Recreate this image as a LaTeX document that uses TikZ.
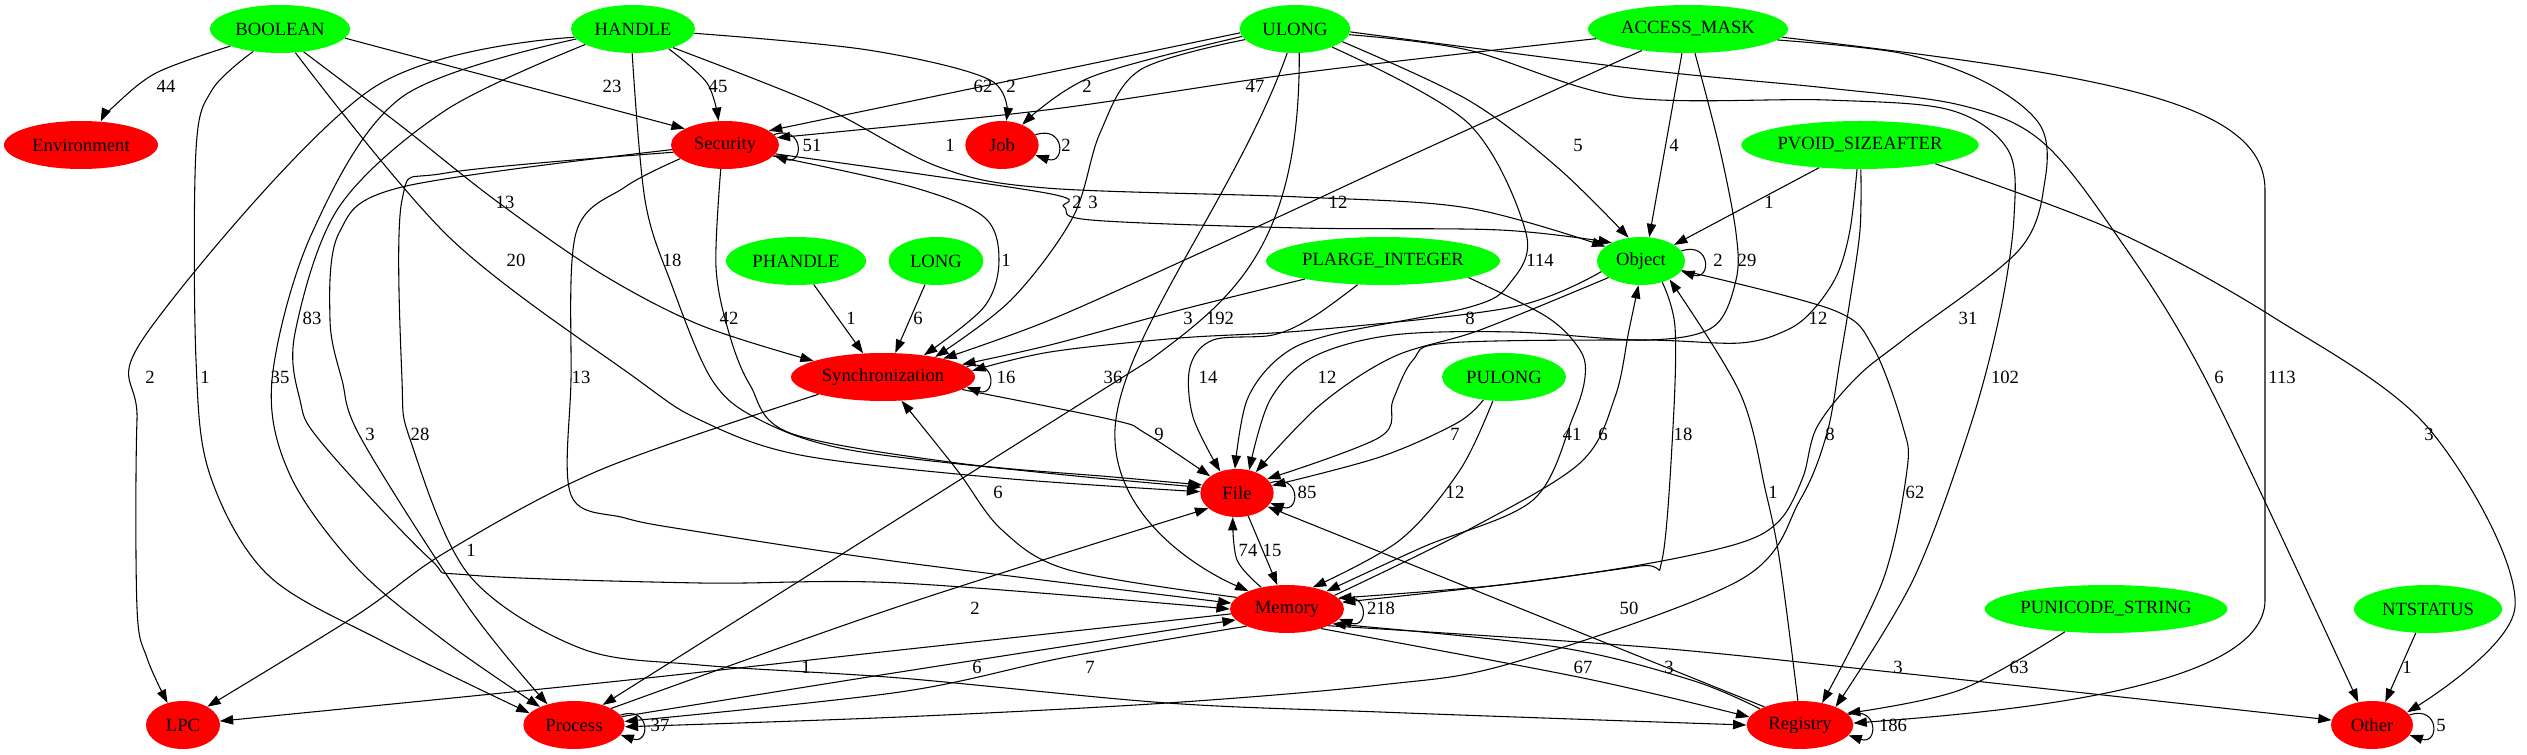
\documentclass[tikz,border=0pt]{standalone}
\usepackage{fontspec}
\setmainfont{Liberation Serif}
\usetikzlibrary{shapes.geometric,arrows.meta}
\definecolor{gvg}{RGB}{0,255,0}
\definecolor{gvr}{RGB}{255,0,0}
\tikzset{
  nd/.style={ellipse, draw=none, inner sep=0pt, minimum height=36pt, font=\fontsize{14}{16}\selectfont},
  gn/.style={nd, fill=gvg},
  rn/.style={nd, fill=gvr},
  ed/.style={draw=black, line width=0.8pt, -{Triangle[length=10pt,width=7pt]}},
  lb/.style={inner sep=0pt, font=\fontsize{14}{16}\selectfont},
  sm/.style={smooth, tension=0.55}
}
\begin{document}
\begin{tikzpicture}[x=0.75pt,y=-0.75pt]
\fill[white] (0,0) rectangle (2527,755);
\useasboundingbox (0,0) rectangle (2527,755);
% nodes
\node[gn, minimum width=105pt] (BOOL) at (280,29) {BOOLEAN};
\node[gn, minimum width=93pt] (HAN) at (633,29) {HANDLE};
\node[gn, minimum width=83pt] (ULONG) at (1295,29) {ULONG};
\node[gn, minimum width=150pt] (AM) at (1688,29) {ACCESS\_MASK};
\node[rn, minimum width=115.5pt] (Env) at (81,145) {Environment};
\node[rn, minimum width=81pt] (Sec) at (725,145) {Security};
\node[rn, minimum width=55pt] (Job) at (1002,145) {Job};
\node[gn, minimum width=178pt] (PVOID) at (1860,145) {PVOID\_SIZEAFTER};
\node[gn, minimum width=105pt] (PH) at (796,261) {PHANDLE};
\node[gn, minimum width=71pt] (LONG) at (936,261) {LONG};
\node[gn, minimum width=175.5pt] (PLI) at (1383,261) {PLARGE\_INTEGER};
\node[gn, minimum width=66pt] (Obj) at (1641,261) {Object};
\node[rn, minimum width=138pt] (Sync) at (883,377) {Synchronization};
\node[gn, minimum width=93pt] (PUL) at (1504,377) {PULONG};
\node[rn, minimum width=55pt] (File) at (1237,493) {File};
\node[rn, minimum width=85.5pt] (Mem) at (1287,609) {Memory};
\node[gn, minimum width=182pt] (PUS) at (2106,609) {PUNICODE\_STRING};
\node[gn, minimum width=111pt] (NT) at (2428,609) {NTSTATUS};
\node[rn, minimum width=55.5pt] (LPC) at (183,725) {LPC};
\node[rn, minimum width=76pt] (Proc) at (574,725) {Process};
\node[rn, minimum width=80pt] (Reg) at (1800,725) {Registry};
\node[rn, minimum width=61.5pt] (Oth) at (2372,725) {Other};
% edges from BOOLEAN
\draw[ed] plot[sm] coordinates {(BOOL.-161) (156,73) (112,108) (Env.50)};
\draw[ed] (BOOL.-8) -- (Sec.158);
\draw[ed] plot[sm] coordinates {(BOOL.-140) (212,90) (196,150) (196,360) (210,475) (268,575) (384,642) (Proc.165)};
\draw[ed] plot[sm] coordinates {(BOOL.-44) (400,125) (495,200) (600,273) (700,325) (Sync.167)};
\draw[ed] plot[sm] coordinates {(BOOL.-57) (450,238) (634,377) (700,420) (800,455) (1000,478) (File.178)};
% HANDLE
\draw[ed] plot[sm] coordinates {(HAN.-29) (707,83) (Sec.105)};
\draw[ed] plot[sm] coordinates {(HAN.-4) (868,50) (990,80) (Job.80)};
\draw[ed] plot[sm] coordinates {(HAN.-25) (823,107) (939,167) (1046,188) (1300,197) (1468,208) (Obj.158)};
\draw[ed] plot[sm] coordinates {(HAN.-92) (645,200) (671,283) (712,380) (760,420) (850,450) (1046,473) (File.171)};
\draw[ed] plot[sm] coordinates {(HAN.-172) (370,90) (147,333) (137,420) (137,608) (147,658) (LPC.125)};
\draw[ed] plot[sm] coordinates {(HAN.-170) (402,97) (312,233) (272,380) (290,475) (357,568) (446,642) (Proc.152)};
\draw[ed] plot[sm] coordinates {(HAN.-162) (446,110) (339,207) (295,333) (300,400) (321,442) (429,558) (469,575) (700,583) (900,583) (Mem.180)};
% Security
\draw[ed] plot[sm] coordinates {(Sec.-163) (625,187) (576,233) (571,380) (571,495) (625,518) (700,532) (900,562) (Mem.174)};
\draw[ed] plot[sm] coordinates {(Sec.-175) (402,187) (339,233) (330,320) (342,380) (362,440) (469,608) (Proc.142)};
\draw[ed] plot[sm] coordinates {(Sec.-172) (446,173) (402,200) (402,380) (411,442) (469,575) (580,648) (700,665) (900,678) (1167,703) (1380,712) (1600,720) (Reg.180)};
\draw[ed] plot[sm] coordinates {(Sec.-100) (716,267) (729,333) (750,385) (790,433) (957,463) (1113,477) (File.167)};
\draw[ed] plot[sm] coordinates {(Sec.-13) (912,187) (984,217) (999,260) (984,307) (Sync.28)};
\draw[ed] plot[sm] coordinates {(Sec.-10) (1046,193) (1064,207) (1091,220) (1300,228) (1500,230) (Obj.148)};
% ULONG
\draw[ed] (ULONG.-176) -- (Sec.18);
\draw[ed] plot[sm] coordinates {(ULONG.-172) (1091,77) (Job.45)};
\draw[ed] plot[sm] coordinates {(ULONG.-168) (1140,70) (1100,133) (1073,217) (1011,300) (Sync.21)};
\draw[ed] plot[sm] coordinates {(ULONG.-15) (1468,100) (1557,167) (Obj.118)};
\draw[ed] plot[sm] coordinates {(ULONG.-26) (1468,123) (1526,233) (1510,283) (1470,307) (1330,335) (1280,357) (1247,400) (File.95)};
\draw[ed] (ULONG.-108) .. controls (1235,200) and (1110,350) .. (1115,440) .. controls (1118,520) and (1200,570) .. (Mem.155);
\draw[ed] (ULONG.-80) .. controls (1300,250) and (1230,300) .. (1150,360) -- (Proc.35);
\draw[ed] plot[sm] coordinates {(ULONG.-6) (1468,50) (1624,97) (1827,100) (1950,110) (2008,150) (2014,217) (2000,313) (1970,427) (1913,580) (Reg.27)};
\draw[ed] plot[sm] coordinates {(ULONG.-3) (1646,70) (1827,88) (1960,105) (2040,140) (2113,230) (2206,380) (Oth.121)};
% ACCESS_MASK
\draw[ed] plot[sm] coordinates {(AM.-174) (1300,73) (1046,110) (Sec.8)};
\draw[ed] plot[sm] coordinates {(AM.-155) (1423,150) (1300,207) (1200,253) (1050,320) (Sync.17)};
\draw[ed] (AM.-104) -- (Obj.71);
\draw[ed] plot[sm] coordinates {(AM.-74) (1720,150) (1736,233) (1736,280) (1713,327) (1646,340) (1513,332) (1393,335) (1313,357) (1270,400) (File.62)};
\draw[ed] plot[sm] coordinates {(AM.-7) (1900,53) (1985,82) (2040,125) (2045,180) (2019,250) (1907,337) (1857,377) (1817,427) (1803,477) (1780,520) (1740,543) (1640,565) (1500,585) (Mem.12)};
\draw[ed] (AM.-5) .. controls (2100,75) and (2265,100) .. (2265,190) -- (2265,600) .. controls (2265,690) and (2000,712) .. (Reg.2);
% PVOID_SIZEAFTER
\draw[ed] (PVOID.-151) -- (Obj.26);
\draw[ed] plot[sm] coordinates {(PVOID.-97) (1850,230) (1837,275) (1813,310) (1787,330) (1740,343) (1640,340) (1447,343) (1413,360) (1393,400) (1380,437) (File.25)};
\draw[ed] plot[sm] coordinates {(PVOID.-88) (1860,230) (1850,300) (1840,360) (1827,433) (1800,500) (1740,580) (1512,663) (1380,685) (1167,703) (900,717) (Proc.-2)};
\draw[ed] plot[sm] coordinates {(PVOID.-14) (2113,230) (2273,317) (2430,430) (2515,607) (Oth.20)};
% middle sources
\draw[ed] (PH.-53) -- (Sync.130);
\draw[ed] (LONG.-115) -- (Sync.63);
\draw[ed] plot[sm] coordinates {(PLI.-167) (1180,310) (1050,345) (Sync.9)};
\draw[ed] plot[sm] coordinates {(PLI.-137) (1313,317) (1273,335) (1213,340) (1190,367) (1193,417) (File.128)};
\draw[ed] plot[sm] coordinates {(PLI.-11) (1547,317) (1580,350) (1585,377) (1573,417) (1533,500) (1423,547) (Mem.24)};
\draw[ed] plot[sm] coordinates {(Mem.16) (1468,530) (1580,463) (1615,397) (1629,330) (Obj.-96)};
\draw[ed] plot[sm] coordinates {(Obj.-45) (1675,327) (1673,427) (1662,560) (1640,566) (1500,585) (Mem.7)};
\draw[ed] plot[sm] coordinates {(Reg.95) (1780,563) (1766,493) (1740,393) (Obj.-33)};
\draw[ed] plot[sm] coordinates {(Obj.-13) (1833,310) (1873,347) (1903,427) (1907,470) (1883,580) (Reg.45)};
\draw[ed] plot[sm] coordinates {(Obj.-165) (1513,307) (1313,330) (1180,338) (1050,352) (Sync.4)};
\draw[ed] plot[sm] coordinates {(Obj.-153) (1480,330) (1393,357) (1320,405) (File.48)};
\draw[ed] plot[sm] coordinates {(PUL.-132) (1457,423) (1380,457) (File.12)};
\draw[ed] plot[sm] coordinates {(PUL.-115) (1460,470) (1400,540) (Mem.40)};
% red to red
\draw[ed] plot[sm] coordinates {(Sync.-9) (1113,420) (1145,433) (File.148)};
\draw[ed] plot[sm] coordinates {(Sync.-165) (600,470) (446,552) (357,615) (LPC.37)};
\draw[ed] plot[sm] coordinates {(Mem.167) (1069,570) (1002,530) (957,470) (Sync.-52)};
\draw[ed] (File.-64) -- (Mem.112);
\draw[ed] plot[sm] coordinates {(Mem.140) (1237,560) (File.-100)};
\draw[ed] (Reg.153) -- (File.-24);
\draw[ed] plot[sm] coordinates {(Proc.24) (900,606) (File.-152)};
\draw[ed] plot[sm] coordinates {(Proc.10) (900,672) (Mem.192)};
\draw[ed] plot[sm] coordinates {(Mem.203) (1067,657) (900,692) (Proc.4)};
\draw[ed] plot[sm] coordinates {(Mem.185) (900,650) (600,683) (LPC.6)};
\draw[ed] plot[sm] coordinates {(Mem.-30) (1583,678) (Reg.171)};
\draw[ed] plot[sm] coordinates {(Reg.158) (1691,680) (1557,647) (Mem.-18)};
\draw[ed] plot[sm] coordinates {(Mem.-22) (1646,647) (1900,673) (Oth.173)};
\draw[ed] plot[sm] coordinates {(PUS.-151) (1960,690) (Reg.14)};
\draw[ed] (NT.-117) -- (Oth.60);
% self loops
\draw[ed] (Sec.12) .. controls +(30,-10) and +(30,10) .. (Sec.-12);
\draw[ed] (Job.17) .. controls +(30,-10) and +(30,10) .. (Job.-17);
\draw[ed] (Obj.14) .. controls +(30,-10) and +(30,10) .. (Obj.-14);
\draw[ed] (Sync.7) .. controls +(30,-10) and +(30,10) .. (Sync.-7);
\draw[ed] (File.17) .. controls +(30,-10) and +(30,10) .. (File.-17);
\draw[ed] (Mem.11) .. controls +(30,-10) and +(30,10) .. (Mem.-11);
\draw[ed] (Proc.12) .. controls +(30,-10) and +(30,10) .. (Proc.-12);
\draw[ed] (Reg.12) .. controls +(30,-10) and +(30,10) .. (Reg.-12);
\draw[ed] (Oth.15) .. controls +(30,-10) and +(30,10) .. (Oth.-15);
% labels
\node[lb] (l01) at (166,86) {44};
\node[lb] (l02) at (612,86) {23};
\node[lb] (l03) at (718,86) {45};
\node[lb] (l04) at (983,86) {62};
\node[lb] (l05) at (1011,86) {2};
\node[lb] (l06) at (1087,86) {2};
\node[lb] (l07) at (1255,86) {47};
\node[lb] (l08) at (812,145) {51};
\node[lb] (l09) at (950,145) {1};
\node[lb] (l10) at (1066,145) {2};
\node[lb] (l11) at (1578,145) {5};
\node[lb] (l12) at (1674,145) {4};
\node[lb] (l13) at (505,202) {13};
\node[lb] (l14) at (1077,202) {2};
\node[lb] (l15) at (1093,202) {3};
\node[lb] (l16) at (1338,202) {12};
\node[lb] (l17) at (1769,202) {1};
\node[lb] (l18) at (516,260) {20};
\node[lb] (l19) at (672,260) {18};
\node[lb] (l20) at (1006,260) {1};
\node[lb] (l21) at (1540,260) {114};
\node[lb] (l22) at (1718,260) {2};
\node[lb] (l23) at (1747,260) {29};
\node[lb] (l24) at (312,318) {83};
\node[lb] (l25) at (729,318) {42};
\node[lb] (l26) at (851,318) {1};
\node[lb] (l27) at (918,318) {6};
\node[lb] (l28) at (1188,318) {3};
\node[lb] (l29) at (1220,318) {192};
\node[lb] (l30) at (1470,318) {8};
\node[lb] (l31) at (1818,318) {12};
\node[lb] (l32) at (1968,318) {31};
\node[lb] (l33) at (150,377) {2};
\node[lb] (l34) at (205,377) {1};
\node[lb] (l35) at (280,377) {35};
\node[lb] (l36) at (581,377) {13};
\node[lb] (l37) at (1006,377) {16};
\node[lb] (l38) at (1113,377) {36};
\node[lb] (l39) at (1208,377) {14};
\node[lb] (l40) at (1327,377) {12};
\node[lb] (l41) at (2005,377) {102};
\node[lb] (l42) at (2219,377) {6};
\node[lb] (l43) at (2282,377) {113};
\node[lb] (l44) at (370,434) {3};
\node[lb] (l45) at (420,434) {28};
\node[lb] (l46) at (1159,434) {9};
\node[lb] (l47) at (1455,434) {7};
\node[lb] (l48) at (1572,434) {41};
\node[lb] (l49) at (1603,434) {6};
\node[lb] (l50) at (1683,434) {18};
\node[lb] (l51) at (1830,434) {8};
\node[lb] (l52) at (2429,434) {3};
\node[lb] (l53) at (998,492) {6};
\node[lb] (l54) at (1307,492) {85};
\node[lb] (l55) at (1455,492) {12};
\node[lb] (l56) at (1773,492) {1};
\node[lb] (l57) at (1915,492) {62};
\node[lb] (l58) at (471,550) {1};
\node[lb] (l59) at (1248,550) {74};
\node[lb] (l60) at (1272,550) {15};
\node[lb] (l61) at (975,608) {2};
\node[lb] (l62) at (1381,608) {218};
\node[lb] (l63) at (1629,608) {50};
\node[lb] (l64) at (806,667) {1};
\node[lb] (l65) at (977,667) {6};
\node[lb] (l66) at (1090,667) {7};
\node[lb] (l67) at (1583,667) {67};
\node[lb] (l68) at (1669,667) {3};
\node[lb] (l69) at (1898,667) {3};
\node[lb] (l70) at (2019,667) {63};
\node[lb] (l71) at (2407,667) {1};
\node[lb] (l72) at (660,725) {37};
\node[lb] (l73) at (1893,725) {186};
\node[lb] (l74) at (2441,725) {5};
\end{tikzpicture}
\end{document}
